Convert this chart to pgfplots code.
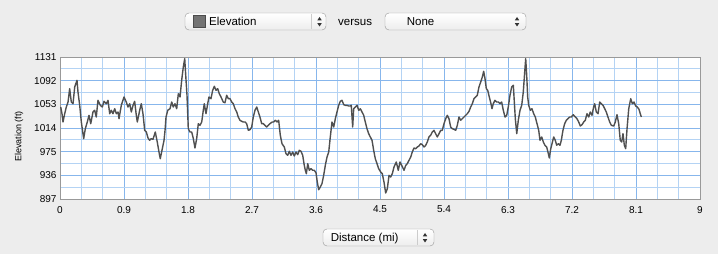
\documentclass[border=0pt]{standalone}
\usepackage{pgfplots}
\pgfplotsset{compat=1.18}
\usepackage{fontspec}
\setmainfont{Liberation Sans}
\definecolor{bg}{RGB}{237,237,237}
\definecolor{gmaj}{RGB}{135,182,236}
\definecolor{gmin}{RGB}{180,211,244}
\definecolor{elev}{RGB}{80,80,80}
\definecolor{popb}{RGB}{150,150,150}
\begin{document}
\begin{tikzpicture}
\fill[bg] (0pt,0pt) rectangle (718pt,254pt);
% top popups
\draw[popb, rounded corners=4pt, top color=white, bottom color=black!7] (185pt,224pt) rectangle (326pt,241pt);
\fill[black!55, draw=black!70] (193pt,227pt) rectangle (205pt,239pt);
\draw[black!20] (311.5pt,225pt) -- (311.5pt,240pt);
\fill[black!80] (317.3pt,233.7pt) -- (321.7pt,233.7pt) -- (319.5pt,237pt) -- cycle;
\fill[black!80] (317.3pt,230.8pt) -- (321.7pt,230.8pt) -- (319.5pt,227.5pt) -- cycle;
\node[anchor=base west, inner sep=0pt, font=\fontsize{11.5}{13}\selectfont] at (209pt,228.7pt) {Elevation};
\node[anchor=base west, inner sep=0pt, font=\fontsize{11.5}{13}\selectfont] at (338pt,228.7pt) {versus};
\draw[popb, rounded corners=4pt, top color=white, bottom color=black!7] (385pt,224pt) rectangle (526pt,241pt);
\fill[black!80] (514.8pt,233.7pt) -- (519.2pt,233.7pt) -- (517pt,237pt) -- cycle;
\fill[black!80] (514.8pt,230.8pt) -- (519.2pt,230.8pt) -- (517pt,227.5pt) -- cycle;
\node[anchor=base west, inner sep=0pt, font=\fontsize{11.5}{13}\selectfont] at (406.6pt,228.7pt) {None};
% bottom popup
\draw[popb, rounded corners=4pt, top color=white, bottom color=black!7] (323pt,8pt) rectangle (434pt,25pt);
\draw[black!20] (417.6pt,9pt) -- (417.6pt,24pt);
\fill[black!80] (422.8pt,17.7pt) -- (427.2pt,17.7pt) -- (425pt,21pt) -- cycle;
\fill[black!80] (422.8pt,14.8pt) -- (427.2pt,14.8pt) -- (425pt,11.5pt) -- cycle;
\node[anchor=base west, inner sep=0pt, font=\fontsize{11.5}{13}\selectfont] at (330.6pt,12.7pt) {Distance (mi)};
\begin{axis}[
  at={(60pt,55pt)}, anchor=south west,
  scale only axis, width=640pt, height=142pt,
  xmin=0, xmax=9, ymin=897, ymax=1131,
  xtick={0,0.9,1.8,2.7,3.6,4.5,5.4,6.3,7.2,8.1,9},
  xticklabels={0,0.9,1.8,2.7,3.6,4.5,5.4,6.3,7.2,8.1,9},
  ytick={897,936,975,1014,1053,1092,1131},
  yticklabels={897,936,975,1014,1053,1092,1131},
  minor x tick num=2, minor y tick num=1,
  grid=both,
  major grid style={draw=gmaj, line width=0.9pt},
  minor grid style={draw=gmin, line width=0.9pt},
  major tick length=0pt, minor tick length=0pt,
  axis background/.style={fill=white},
  axis line style={draw=black!40, line width=0.9pt},
  tick label style={font=\fontsize{10}{12}\selectfont, text=black},
  xticklabel style={yshift=-3.5pt},
  /pgf/number format/assume math mode=true,
  ylabel={Elevation (ft)},
  ylabel style={at={(axis description cs:-0.064,0.44)}, anchor=center, font=\fontsize{9}{11}\selectfont},
]
\addplot[elev, line width=1.4pt, line join=round, no markers] coordinates {
(0.010,1048.6) (0.028,1037.6) (0.042,1023.9) (0.066,1037.6) (0.089,1048.6)
(0.113,1056.8) (0.136,1078.8) (0.159,1056.8) (0.183,1054.0) (0.207,1081.6)
(0.239,1092.6) (0.253,1073.3) (0.277,1051.4) (0.300,1023.9) (0.333,996.4)
(0.356,1012.8) (0.384,1023.9) (0.408,1034.9) (0.432,1021.1) (0.464,1040.4)
(0.488,1043.2) (0.510,1032.1) (0.534,1059.6) (0.567,1051.4) (0.595,1048.6)
(0.619,1058.0) (0.651,1054.0) (0.675,1059.6) (0.699,1037.6) (0.721,1043.2)
(0.745,1037.6) (0.769,1045.8) (0.792,1037.6) (0.816,1040.4) (0.830,1029.3)
(0.862,1051.4) (0.900,1065.1) (0.932,1056.8) (0.956,1048.6) (0.980,1054.0)
(1.003,1040.4) (1.027,1051.4) (1.050,1058.0) (1.073,1034.9) (1.087,1023.9)
(1.121,1043.2) (1.143,1054.0) (1.167,1037.6) (1.191,1010.2) (1.214,1007.4)
(1.238,997.5) (1.261,993.7) (1.284,996.4) (1.308,995.4) (1.340,1007.4)
(1.368,990.9) (1.392,974.4) (1.410,963.4) (1.434,977.2) (1.463,993.7)
(1.477,1010.0) (1.491,1032.1) (1.515,1043.2) (1.547,1045.8) (1.571,1056.8)
(1.593,1048.6) (1.617,1054.0) (1.641,1045.8) (1.664,1070.5) (1.688,1065.1)
(1.711,1092.6) (1.734,1114.5) (1.754,1128.2) (1.768,1100.8) (1.786,1067.9)
(1.804,1012.8) (1.828,1007.4) (1.852,1007.4) (1.875,996.4) (1.898,981.0)
(1.922,996.4) (1.945,1021.1) (1.969,1018.4) (1.993,1023.9) (2.015,1043.2)
(2.029,1054.0) (2.053,1037.6) (2.077,1054.0) (2.095,1065.1) (2.123,1062.3)
(2.147,1076.1) (2.170,1082.7) (2.194,1076.1) (2.218,1078.8) (2.240,1070.5)
(2.264,1065.1) (2.296,1056.8) (2.320,1055.7) (2.344,1067.9) (2.367,1062.3)
(2.391,1062.3) (2.415,1056.8) (2.437,1054.0) (2.461,1045.8) (2.485,1040.4)
(2.507,1032.1) (2.531,1026.7) (2.555,1025.0) (2.578,1023.9) (2.602,1023.9)
(2.625,1021.1) (2.648,1010.2) (2.672,1011.2) (2.696,1015.6) (2.718,1032.1)
(2.742,1043.2) (2.766,1048.6) (2.789,1040.4) (2.812,1032.1) (2.836,1021.1)
(2.859,1021.1) (2.883,1018.4) (2.907,1015.6) (2.929,1018.4) (2.953,1021.1)
(2.985,1023.9) (3.005,1023.9) (3.028,1026.7) (3.052,1023.9) (3.075,1026.7)
(3.098,1002.0) (3.122,988.1) (3.154,982.7) (3.178,971.6) (3.202,969.0)
(3.225,975.6) (3.248,969.0) (3.272,974.4) (3.295,967.8) (3.319,974.4)
(3.343,970.0) (3.365,977.2) (3.389,975.6) (3.413,969.0) (3.435,952.5)
(3.450,944.3) (3.464,938.7) (3.484,955.2) (3.506,944.3) (3.530,946.9)
(3.554,944.3) (3.576,944.3) (3.600,940.3) (3.618,925.0) (3.638,912.3)
(3.661,916.8) (3.684,922.2) (3.708,936.0) (3.731,952.5) (3.755,966.2)
(3.779,974.4) (3.801,999.2) (3.825,1023.9) (3.849,1015.6) (3.872,1029.3)
(3.895,1040.4) (3.919,1051.4) (3.942,1058.0) (3.966,1059.6) (3.990,1052.4)
(4.012,1051.4) (4.036,1051.4) (4.060,1050.2) (4.082,1050.2) (4.096,1051.4)
(4.116,1015.6) (4.130,1045.8) (4.153,1048.6) (4.177,1051.4) (4.201,1043.2)
(4.223,1045.8) (4.247,1040.4) (4.271,1034.9) (4.293,1023.9) (4.317,1012.8)
(4.341,1004.6) (4.364,999.2) (4.388,993.7) (4.411,977.2) (4.434,963.4)
(4.458,955.2) (4.482,946.9) (4.510,941.5) (4.532,938.7) (4.556,925.0)
(4.580,906.9) (4.603,914.0) (4.627,936.0) (4.650,933.2) (4.673,938.7)
(4.697,949.7) (4.729,958.0) (4.757,944.3) (4.781,958.0) (4.805,952.5)
(4.838,944.3) (4.862,952.5) (4.884,955.2) (4.908,960.8) (4.932,966.2)
(4.954,974.4) (4.978,981.0) (5.002,979.9) (5.025,982.7) (5.048,984.3)
(5.072,988.1) (5.095,986.5) (5.119,982.7) (5.143,985.5) (5.165,990.9)
(5.189,999.2) (5.213,1002.0) (5.235,1007.4) (5.259,1010.2) (5.283,1004.6)
(5.306,999.2) (5.330,1004.6) (5.354,1010.2) (5.376,1010.2) (5.400,1021.1)
(5.424,1029.3) (5.446,1034.9) (5.470,1029.3) (5.494,1015.6) (5.517,1012.8)
(5.541,1011.8) (5.565,1010.2) (5.587,1018.4) (5.611,1032.1) (5.635,1026.7)
(5.657,1029.3) (5.681,1032.1) (5.705,1034.9) (5.728,1037.6) (5.752,1041.5)
(5.775,1048.6) (5.798,1054.0) (5.822,1062.3) (5.846,1065.1) (5.868,1067.9)
(5.892,1081.6) (5.916,1089.8) (5.939,1098.0) (5.958,1107.4) (5.977,1095.2)
(5.995,1078.8) (6.015,1076.1) (6.037,1065.1) (6.061,1054.0) (6.075,1045.8)
(6.093,1054.0) (6.117,1059.6) (6.141,1056.8) (6.164,1056.8) (6.188,1054.0)
(6.211,1056.8) (6.234,1043.2) (6.258,1032.1) (6.282,1034.9) (6.304,1048.6)
(6.328,1067.9) (6.352,1081.6) (6.375,1084.4) (6.389,1056.8) (6.403,1029.3)
(6.423,1004.6) (6.445,1026.7) (6.469,1043.2) (6.493,1051.4) (6.515,1073.3)
(6.535,1106.3) (6.549,1128.2) (6.563,1100.8) (6.577,1065.1) (6.591,1051.4)
(6.614,1043.2) (6.637,1045.8) (6.661,1037.6) (6.684,1032.1) (6.708,1021.1)
(6.732,1010.2) (6.750,993.7) (6.774,999.2) (6.797,990.9) (6.820,985.5)
(6.844,982.7) (6.862,974.4) (6.881,964.6) (6.901,979.9) (6.919,988.1)
(6.943,999.2) (6.965,993.7) (6.985,985.5) (7.007,988.1) (7.031,985.5)
(7.050,993.7) (7.073,1010.2) (7.097,1021.1) (7.120,1026.7) (7.144,1029.3)
(7.168,1032.1) (7.190,1032.1) (7.218,1035.9) (7.246,1032.1) (7.270,1029.3)
(7.294,1023.9) (7.317,1017.3) (7.341,1019.4) (7.365,1023.9) (7.387,1026.7)
(7.411,1037.6) (7.435,1032.1) (7.457,1040.4) (7.481,1034.9) (7.504,1048.6)
(7.519,1054.0) (7.542,1040.4) (7.566,1037.6) (7.590,1056.8) (7.612,1054.0)
(7.636,1051.4) (7.660,1045.8) (7.682,1040.4) (7.706,1032.1) (7.730,1023.9)
(7.753,1018.4) (7.787,1017.3) (7.809,1023.9) (7.833,1035.9) (7.857,1021.1)
(7.879,993.7) (7.899,990.9) (7.917,1004.6) (7.936,985.5) (7.955,979.9)
(7.974,1012.8) (7.998,1045.8) (8.026,1062.3) (8.048,1054.0) (8.072,1056.8)
(8.096,1050.2) (8.118,1048.6) (8.142,1044.8) (8.160,1037.6) (8.175,1032.1)
};
\end{axis}
\end{tikzpicture}
\end{document}
